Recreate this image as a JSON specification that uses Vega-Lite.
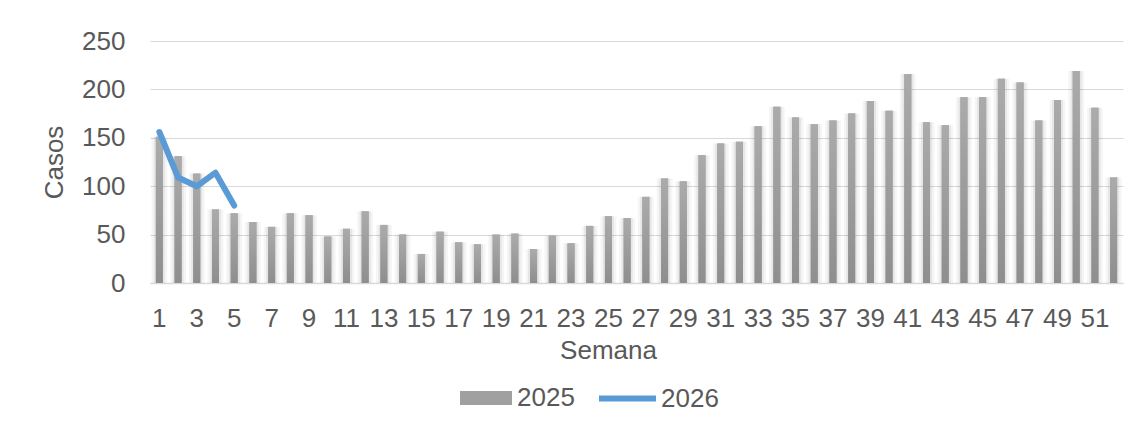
{
  "$schema": "https://vega.github.io/schema/vega-lite/v6.json",
  "width": 973,
  "height": 242,
  "autosize": "none",
  "padding": {"left": 150, "top": 41, "right": 19, "bottom": 143},
  "background": "#ffffff",
  "config": {
    "font": "Liberation Sans",
    "view": {"stroke": null},
    "axis": {
      "labelFont": "Liberation Sans",
      "titleFont": "Liberation Sans",
      "labelColor": "#595959",
      "titleColor": "#595959",
      "labelFontSize": 26,
      "titleFontSize": 26,
      "titleFontWeight": "normal",
      "ticks": false,
      "tickSize": 0,
      "gridColor": "#d9d9d9",
      "gridWidth": 1.2,
      "domainColor": "#d9d9d9",
      "domainWidth": 1.5
    },
    "legend": {
      "labelFont": "Liberation Sans",
      "labelFontSize": 26,
      "labelColor": "#595959",
      "padding": 0
    }
  },
  "datasets": {
    "casos2025": [
      {"semana": 1, "casos": 151}, {"semana": 2, "casos": 131}, {"semana": 3, "casos": 113},
      {"semana": 4, "casos": 76}, {"semana": 5, "casos": 72}, {"semana": 6, "casos": 63},
      {"semana": 7, "casos": 58}, {"semana": 8, "casos": 72}, {"semana": 9, "casos": 70},
      {"semana": 10, "casos": 48}, {"semana": 11, "casos": 56}, {"semana": 12, "casos": 74},
      {"semana": 13, "casos": 60}, {"semana": 14, "casos": 50}, {"semana": 15, "casos": 30},
      {"semana": 16, "casos": 53}, {"semana": 17, "casos": 42}, {"semana": 18, "casos": 40},
      {"semana": 19, "casos": 50}, {"semana": 20, "casos": 51}, {"semana": 21, "casos": 35},
      {"semana": 22, "casos": 49}, {"semana": 23, "casos": 41}, {"semana": 24, "casos": 59},
      {"semana": 25, "casos": 69}, {"semana": 26, "casos": 67}, {"semana": 27, "casos": 89},
      {"semana": 28, "casos": 108}, {"semana": 29, "casos": 105}, {"semana": 30, "casos": 132},
      {"semana": 31, "casos": 144}, {"semana": 32, "casos": 146}, {"semana": 33, "casos": 162},
      {"semana": 34, "casos": 182}, {"semana": 35, "casos": 171}, {"semana": 36, "casos": 164},
      {"semana": 37, "casos": 168}, {"semana": 38, "casos": 175}, {"semana": 39, "casos": 188},
      {"semana": 40, "casos": 178}, {"semana": 41, "casos": 216}, {"semana": 42, "casos": 166},
      {"semana": 43, "casos": 163}, {"semana": 44, "casos": 192}, {"semana": 45, "casos": 192},
      {"semana": 46, "casos": 211}, {"semana": 47, "casos": 207}, {"semana": 48, "casos": 168},
      {"semana": 49, "casos": 189}, {"semana": 50, "casos": 219}, {"semana": 51, "casos": 181},
      {"semana": 52, "casos": 109}
    ],
    "casos2026": [
      {"semana": 1, "casos": 156}, {"semana": 2, "casos": 109}, {"semana": 3, "casos": 100},
      {"semana": 4, "casos": 114}, {"semana": 5, "casos": 80}
    ]
  },
  "encoding": {
    "x": {
      "field": "semana",
      "type": "ordinal",
      "scale": {"paddingInner": 0, "paddingOuter": 0},
      "axis": {
        "title": "Semana",
        "values": [1,3,5,7,9,11,13,15,17,19,21,23,25,27,29,31,33,35,37,39,41,43,45,47,49,51],
        "labelAngle": 0,
        "labelPadding": 22,
        "titlePadding": 6,
        "titleX": 458,
        "titleAnchor": "start",
        "titleAlign": "center",
        "grid": false
      }
    },
    "y": {
      "field": "casos",
      "type": "quantitative",
      "scale": {"domain": [0, 250], "nice": false},
      "axis": {
        "title": "Casos",
        "values": [0, 50, 100, 150, 200, 250],
        "labelPadding": 25,
        "domain": false,
        "grid": true,
        "titleX": -96,
        "titleY": 121,
        "titleAngle": -90,
        "titleBaseline": "middle",
        "titleAlign": "center"
      }
    }
  },
  "layer": [
    {
      "data": {"name": "casos2025"},
      "mark": {"type": "bar", "color": "#000000", "opacity": 0.04, "width": {"band": 0.85}}
    },
    {
      "data": {"name": "casos2025"},
      "mark": {"type": "bar", "color": "#000000", "opacity": 0.06, "width": {"band": 0.6}}
    },
    {
      "data": {"name": "casos2025"},
      "mark": {"type": "bar", "width": {"band": 0.375}},
      "encoding": {
        "fill": {
          "datum": "2025",
          "type": "nominal",
          "scale": {"range": ["#a0a0a0"]},
          "legend": {
            "title": null,
            "orient": "none",
            "legendX": 310,
            "legendY": 331,
            "symbolType": "M-1,-0.27H1V0.27H-1Z",
            "symbolSize": 2704,
            "symbolStrokeWidth": 0,
            "symbolOpacity": 1,
            "labelOffset": 5
          }
        }
      }
    },
    {
      "data": {"name": "casos2025"},
      "mark": {
        "type": "bar",
        "width": {"band": 0.375},
        "color": {
          "gradient": "linear",
          "x1": 0, "y1": 0, "x2": 0, "y2": 1,
          "stops": [
            {"offset": 0, "color": "#ababab"},
            {"offset": 1, "color": "#8e8e8e"}
          ]
        }
      }
    },
    {
      "data": {"name": "casos2026"},
      "mark": {"type": "line", "strokeWidth": 6, "strokeCap": "round", "strokeJoin": "round"},
      "encoding": {
        "stroke": {
          "datum": "2026",
          "type": "nominal",
          "scale": {"range": ["#5b9bd5"]},
          "legend": {
            "title": null,
            "orient": "none",
            "legendX": 446,
            "legendY": 326,
            "symbolType": "stroke",
            "symbolSize": 3249,
            "symbolStrokeWidth": 6,
            "labelOffset": 2
          }
        }
      }
    }
  ]
}
